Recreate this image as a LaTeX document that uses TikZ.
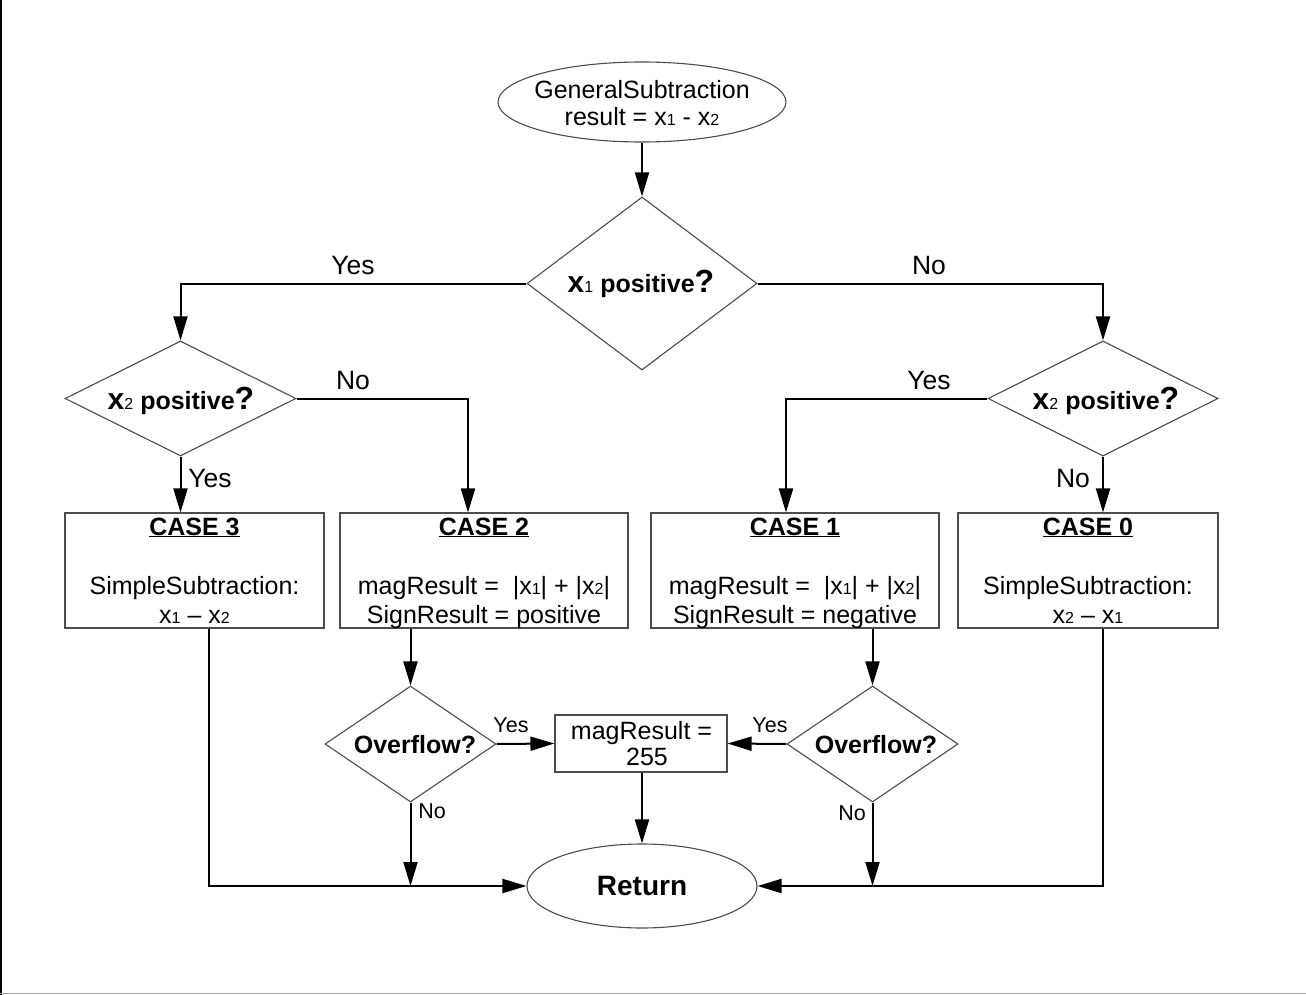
\documentclass[tikz,border=0pt]{standalone}
\usepackage{fontspec}
\setmainfont{Liberation Sans}
\usetikzlibrary{shapes.geometric,arrows.meta}
% font size helper and small on-baseline index digits
\newcommand\fsz[1]{\fontsize{#1}{#1}\selectfont}
\newcommand\subd[1]{{\fontsize{16}{16}\mdseries\selectfont #1}}
\newcommand\bigx{{\fontsize{30}{30}\bfseries\selectfont x}}
\newcommand\bigq{{\fontsize{32}{32}\bfseries\selectfont ?}}

\begin{document}
\begin{tikzpicture}[x=1pt,y=-1pt,
  outline/.style={draw=black!70, line width=1.1pt, fill=white, inner sep=0pt},
  decision/.style={outline, diamond},
  terminal/.style={outline, ellipse},
  process/.style={outline, rectangle},
  txt/.style={anchor=base, inner sep=0pt, font=\fsz{25}},
  btxt/.style={txt, font=\fsz{25}\bfseries},
  biglab/.style={txt, font=\fsz{26.5}},
  smalllab/.style={txt, font=\fsz{21.5}},
  wire/.style={line width=2pt, line join=miter},
  link/.style={wire, -{Triangle[length=24pt,width=14pt]}}
]
\useasboundingbox (0,0) rectangle (1306,995);
% frame edges
\draw[line width=2pt] (1,0) -- (1,995);
\draw[black!35, line width=1.5pt] (0,993.5) -- (1306,993.5);

% shapes
\node[terminal, minimum width=288, minimum height=80] (start) at (642,102) {};
\node[decision, minimum width=230, minimum height=173] (d1) at (642,283.5) {};
\node[decision, minimum width=231, minimum height=115] (d2) at (180.5,398.5) {};
\node[decision, minimum width=230, minimum height=115] (d3) at (1103,398.5) {};
\node[process, minimum width=259, minimum height=115] (case3) at (194.5,570.5) {};
\node[process, minimum width=288, minimum height=115] (case2) at (484,570.5) {};
\node[process, minimum width=288, minimum height=115] (case1) at (795,570.5) {};
\node[process, minimum width=260, minimum height=115] (case0) at (1088,570.5) {};
\node[decision, minimum width=171, minimum height=116] (ov1) at (410.5,744) {};
\node[decision, minimum width=171, minimum height=116] (ov2) at (872.5,744) {};
\node[process, minimum width=172, minimum height=57] (mag) at (641,743.5) {};
\node[terminal, minimum width=230, minimum height=84] (ret) at (642,886) {};

% texts inside shapes
\node[txt] (t1) at (642,99) {GeneralSubtraction};
\node[txt] (t2) at (642,126) {result = x\subd{1} - x\subd{2}};
\node[btxt] (t3) at (641,292) {\bigx\subd{1} positive\bigq};
\node[btxt] (t4) at (181,409) {\bigx\subd{2} positive\bigq};
\node[btxt] (t5) at (1106,409) {\bigx\subd{2} positive\bigq};

\node[btxt] (c3a) at (194.5,535) {\underline{CASE 3}};
\node[txt] (c3b) at (194.5,594) {SimpleSubtraction:};
\node[txt] (c3c) at (194.5,623) {x\subd{1} – x\subd{2}};

\node[btxt] (c2a) at (484,535) {\underline{CASE 2}};
\node[txt] (c2b) at (484,594) {magResult = \ |x\subd{1}| + |x\subd{2}|};
\node[txt] (c2c) at (484,623) {SignResult = positive};

\node[btxt] (c1a) at (795,535) {\underline{CASE 1}};
\node[txt] (c1b) at (795,594) {magResult = \ |x\subd{1}| + |x\subd{2}|};
\node[txt] (c1c) at (795,623) {SignResult = negative};

\node[btxt] (c0a) at (1088,535) {\underline{CASE 0}};
\node[txt] (c0b) at (1088,594) {SimpleSubtraction:};
\node[txt] (c0c) at (1088,623) {x\subd{2} – x\subd{1}};

\node[btxt] (o1) at (415,753) {Overflow?};
\node[btxt] (o2) at (876,753) {Overflow?};
\node[txt] (m1) at (641.5,739) {magResult =};
\node[txt] (m2) at (647,765) {255};
\node[txt, font=\fsz{28}\bfseries] (rt) at (642,895) {Return};

% branch labels
\node[biglab] (l1) at (353,274) {Yes};
\node[biglab] (l2) at (929,274) {No};
\node[biglab] (l3) at (353,389) {No};
\node[biglab] (l4) at (929,389) {Yes};
\node[biglab] (l5) at (210,487) {Yes};
\node[biglab] (l6) at (1073,487) {No};
\node[smalllab] (l7) at (511,732) {Yes};
\node[smalllab] (l8) at (770,732) {Yes};
\node[smalllab] (l9) at (432,818) {No};
\node[smalllab] (l10) at (852,820) {No};

% connectors
\draw[link] (start.south) -- (d1.north);
\draw[link] (d1.west) -| (d2.north);
\draw[link] (d1.east) -| (d3.north);
\draw[link] (d2.east) -| ([xshift=-16pt]case2.north);
\draw[link] (d2.south) -- (d2.south |- case3.north);
\draw[link] (d3.west) -| ([xshift=-9pt]case1.north);
\draw[link] (d3.south) -- (d3.south |- case0.north);
\draw[link] (ov1.north |- case2.south) -- (ov1.north);
\draw[link] (ov2.north |- case1.south) -- (ov2.north);
\draw[link] (ov1.east) -- (mag.west);
\draw[link] (ov2.west) -- (mag.east);
\draw[link] (ret.north |- mag.south) -- (ret.north);
\draw[link] ([xshift=14.5pt]case3.south) |- (ret.west);
\draw[link] ([xshift=15pt]case0.south) |- (ret.east);
\draw[link] (ov1.south) -- (ov1.south |- ret.west);
\draw[link] (ov2.south) -- (ov2.south |- ret.east);
\end{tikzpicture}
\end{document}
